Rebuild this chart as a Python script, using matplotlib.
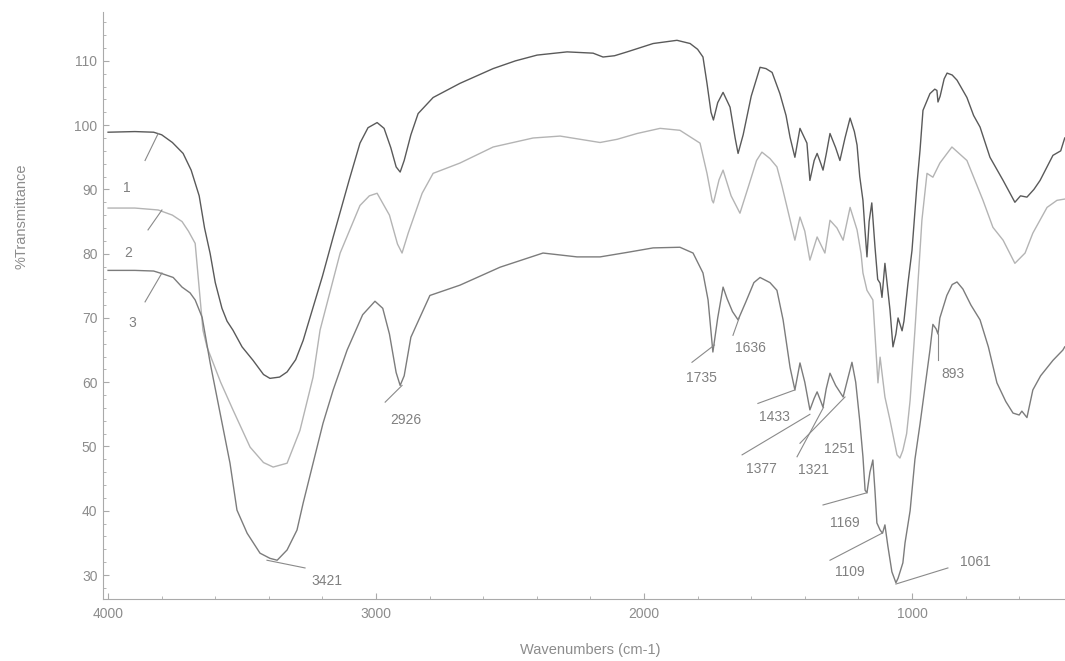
import matplotlib
matplotlib.use("Agg")
import matplotlib.pyplot as plt
import numpy as np
from matplotlib.ticker import MultipleLocator

# spectra: (wavenumber, %T)
wn1 = [4000, 3900, 3830, 3800, 3760, 3720, 3690, 3660, 3640, 3619, 3600, 3575, 3556,
       3534, 3500, 3459, 3420, 3396, 3360, 3332, 3300, 3272, 3257, 3200, 3160, 3100,
       3060, 3030, 2996, 2970, 2945, 2925, 2910, 2895, 2870, 2843, 2787, 2687, 2563,
       2480, 2399, 2287, 2190, 2153, 2110, 2063, 1966, 1877, 1828, 1800, 1780, 1765,
       1750, 1741, 1725, 1705, 1679, 1660, 1649, 1630, 1600, 1567, 1545, 1522, 1493,
       1470, 1455, 1437, 1418, 1392, 1381, 1365, 1354, 1340, 1332, 1320, 1306, 1285,
       1269, 1250, 1231, 1215, 1205, 1195, 1183, 1176, 1168, 1160, 1150, 1138, 1128,
       1119, 1112, 1101, 1093, 1082, 1071, 1060, 1052, 1037, 1030, 1015, 1000, 981,
       970, 959, 933, 915, 907, 903, 895, 880, 869, 850, 832, 795, 770, 746, 709,
       660, 616, 595, 571, 545, 522, 474, 445, 430]
t1 = [98.9, 99.0, 98.9, 98.5, 97.3, 95.6, 93.0, 89.0, 84.0, 80.0, 75.5, 71.5, 69.5,
      68.1, 65.5, 63.4, 61.2, 60.6, 60.8, 61.6, 63.5, 66.5, 68.6, 76.5, 82.6, 91.5,
      97.2, 99.6, 100.4, 99.5, 96.5, 93.5, 92.7, 94.5, 98.5, 101.8, 104.3, 106.5, 108.8,
      110.0, 110.9, 111.4, 111.2, 110.6, 110.8, 111.4, 112.7, 113.2, 112.7, 111.8, 110.6, 106.5,
      102.0, 100.8, 103.5, 105.1, 102.8, 98.0, 95.6, 98.5, 104.5, 109.0, 108.8, 108.2, 104.9,
      101.5, 98.1, 95.0, 99.5, 97.2, 91.4, 94.5, 95.6, 94.0, 93.0, 95.5, 98.7, 96.5,
      94.5, 98.0, 101.1, 99.0, 96.9, 92.0, 88.3, 84.0, 79.5, 85.0, 87.9, 81.0, 76.0,
      75.4, 73.2, 78.5, 75.4, 71.2, 65.5, 67.5, 70.0, 68.0, 69.5, 75.4, 80.5, 91.0,
      96.1, 102.3, 104.9, 105.6, 105.4, 103.6, 104.5, 107.2, 108.1, 107.8, 107.0, 104.3, 101.5, 99.7, 95.0,
      91.4, 88.0, 89.0, 88.8, 90.0, 91.4, 95.3, 96.0, 98.0]

wn2 = [4000, 3900, 3813, 3760, 3724, 3700, 3675, 3646, 3631, 3580, 3534, 3470, 3420,
       3384, 3332, 3284, 3235, 3209, 3134, 3060, 3025, 2996, 2950, 2920, 2903, 2880,
       2828, 2787, 2687, 2563, 2414, 2313, 2164, 2100, 2026, 1940, 1866, 1791, 1765,
       1746, 1741, 1720, 1705, 1675, 1642, 1610, 1580, 1560, 1530, 1504, 1485, 1466,
       1437, 1418, 1400, 1381, 1354, 1325, 1306, 1280, 1257, 1231, 1205, 1190, 1183,
       1168, 1146, 1127, 1119, 1101, 1082, 1056, 1045, 1034, 1020, 1007, 989, 970,
       963, 944, 922, 896, 851, 795, 735, 698, 660, 616, 578, 549, 496, 459, 430]
t2 = [87.1, 87.1, 86.8, 86.0, 85.0, 83.5, 81.6, 68.1, 65.5, 60.0, 55.7, 49.9, 47.5,
      46.8, 47.4, 52.5, 60.8, 68.1, 80.1, 87.5, 89.0, 89.4, 86.0, 81.5, 80.1, 83.2,
      89.4, 92.5, 94.1, 96.6, 98.0, 98.3, 97.3, 97.8, 98.7, 99.5, 99.2, 97.2, 92.5,
      88.3, 87.9, 91.5, 93.0, 89.0, 86.3, 90.5, 94.5, 95.8, 94.8, 93.5, 90.5, 87.2,
      82.1, 85.7, 83.5, 79.0, 82.6, 80.1, 85.2, 84.0, 82.1, 87.2, 83.7, 80.0, 77.0,
      74.3, 72.8, 59.9, 63.9, 57.7, 54.1, 48.7, 48.2, 49.4, 52.0, 57.2, 68.1, 80.5,
      85.2, 92.5, 91.9, 94.1, 96.6, 94.5, 88.3, 84.1, 82.1, 78.5, 80.1, 83.2, 87.2, 88.3, 88.5]

wn3 = [4000, 3900, 3830, 3799, 3757, 3724, 3694, 3675, 3649, 3619, 3582, 3545, 3519,
       3481, 3433, 3396, 3369, 3332, 3295, 3272, 3235, 3198, 3160, 3108, 3050, 3004,
       2975, 2950, 2925, 2910, 2895, 2870, 2799, 2687, 2537, 2377, 2250, 2164, 2063,
       1966, 1866, 1817, 1780, 1761, 1743, 1725, 1705, 1690, 1670, 1649, 1620, 1590,
       1567, 1530, 1504, 1481, 1455, 1437, 1418, 1400, 1381, 1365, 1354, 1340, 1332,
       1320, 1306, 1285, 1257, 1240, 1224, 1210, 1195, 1183, 1175, 1168, 1157, 1146,
       1138, 1131, 1119, 1110, 1101, 1090, 1075, 1060, 1052, 1034, 1026, 1007, 989,
       970, 933, 922, 910, 903, 896, 870, 850, 832, 810, 780, 746, 715, 683, 650,
       623, 600, 590, 571, 549, 520, 474, 437, 430]
t3 = [77.4, 77.4, 77.3, 76.9, 76.3, 74.8, 73.9, 72.8, 70.1, 63.0, 55.2, 47.4, 40.1,
      36.5, 33.4, 32.6, 32.3, 33.9, 37.0, 41.2, 47.4, 53.6, 58.8, 65.0, 70.5, 72.6,
      71.5, 67.5, 61.5, 59.5, 61.0, 67.0, 73.5, 75.1, 77.9, 80.1, 79.5, 79.5, 80.2,
      80.9, 81.0, 80.1, 77.0, 72.8, 64.7, 70.0, 74.8, 73.0, 71.0, 69.7, 72.5, 75.5,
      76.3, 75.5, 74.3, 69.7, 62.3, 58.8, 63.0, 60.0, 55.7, 57.5, 58.5, 57.0, 56.1,
      59.0, 61.4, 59.5, 57.7, 60.5, 63.1, 60.0, 54.0, 48.4, 43.2, 42.8, 46.0, 47.9,
      43.0, 38.1, 37.0, 36.5, 37.8, 34.5, 30.5, 28.8, 29.5, 31.9, 35.0, 40.0, 48.0,
      53.5, 65.0, 69.0, 68.3, 67.5, 70.0, 73.5, 75.2, 75.6, 74.5, 72.0, 69.7, 65.5, 59.9, 57.0,
      55.2, 54.9, 55.5, 54.5, 58.8, 61.0, 63.4, 65.0, 65.5]

# band labels: text, text position, leader start, leader end (wavenumber, %T)
peaks = [
    ("1",    (3929, 90.2), (3862, 94.5), (3813, 98.7)),
    ("2",    (3925, 80.1), (3851, 83.7), (3799, 86.8)),
    ("3",    (3910, 69.2), (3862, 72.5), (3799, 77.0)),
    ("3421", (3183, 29.1), (3265, 31.1), (3407, 32.3)),
    ("2926", (2888, 54.1), (2966, 56.9), (2903, 59.5)),
    ("1735", (1784, 60.6), (1821, 63.1), (1737, 65.8)),
    ("1636", (1604, 65.3), (1668, 67.3), (1645, 70.0)),
    ("1433", (1515, 54.6), (1575, 56.7), (1437, 58.8)),
    ("1377", (1560, 46.5), (1634, 48.7), (1381, 55.0)),
    ("1321", (1369, 46.3), (1429, 48.4), (1330, 56.1)),
    ("1251", (1272, 49.6), (1418, 50.5), (1250, 57.7)),
    ("1169", (1250, 38.1), (1332, 40.9), (1168, 42.8)),
    ("1109", (1231, 30.5), (1306, 32.3), (1112, 36.5)),
    ("1061", (765, 32.0), (866, 31.1), (1060, 28.6)),
    ("893",  (847, 61.3), (903, 63.4), (903, 67.5)),
]

plt.rcParams['font.family'] = ['Liberation Sans', 'DejaVu Sans']

fig = plt.figure(figsize=(10.65, 6.61), dpi=100)
ax = fig.add_axes([0.0967, 0.0938, 0.9033, 0.888])

ax.plot(wn1, t1, color='#5a5a5a', lw=1.0)
ax.plot(wn2, t2, color='#b4b4b4', lw=1.0)
ax.plot(wn3, t3, color='#7c7c7c', lw=1.0)

for lab, tpos, p0, p1 in peaks:
    ax.plot([p0[0], p1[0]], [p0[1], p1[1]], color='#8a8a8a', lw=0.8)
    ax.text(tpos[0], tpos[1], lab, ha='center', va='center', fontsize=10, color='#808080')

ax.set_xlim(4019, 429)
ax.set_ylim(26.27, 117.6)

ax.xaxis.set_major_locator(MultipleLocator(1000))
ax.xaxis.set_minor_locator(MultipleLocator(200))
ax.yaxis.set_major_locator(MultipleLocator(10))
ax.yaxis.set_minor_locator(MultipleLocator(2))
ax.set_yticks(range(30, 111, 10))

ax.tick_params(which='both', direction='in', color='#aaaaaa', labelcolor='#8c8c8c', labelsize=10)
ax.tick_params(which='major', length=4)
ax.tick_params(which='minor', length=2)
ax.tick_params(axis='y', pad=4)
ax.tick_params(axis='x', pad=6)

for side in ['top', 'right']:
    ax.spines[side].set_visible(False)
for side in ['left', 'bottom']:
    ax.spines[side].set_color('#aaaaaa')
    ax.spines[side].set_linewidth(0.8)

fig.text(590 / 1065, 1 - 650 / 661, 'Wavenumbers (cm-1)', ha='center', va='center',
         fontsize=10.5, color='#8c8c8c')
fig.text(22 / 1065, 1 - 216 / 661, '%Transmittance', ha='center', va='center',
         rotation=90, fontsize=10.5, color='#8c8c8c')

fig.savefig('out.png', dpi=100)
